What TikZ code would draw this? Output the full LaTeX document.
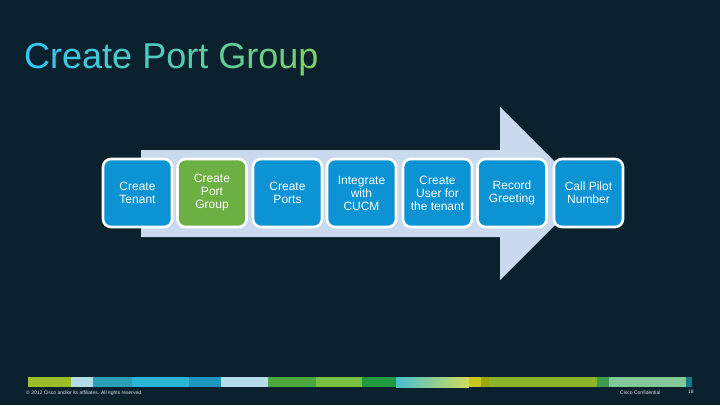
\documentclass[tikz,border=0pt]{standalone}
\usepackage{fontspec}
\setmainfont{Liberation Sans}
\usepackage{xcolor}
\usetikzlibrary{calc}
\definecolor{slidebg}{HTML}{0B222E}
\definecolor{arrowfill}{HTML}{C9D9EE}
\definecolor{boxblue}{HTML}{0B93D3}
\definecolor{boxgreen}{HTML}{6CB043}
\definecolor{titleA}{HTML}{33C8F2}
\definecolor{titleB}{HTML}{7CCF6A}
\definecolor{barA}{HTML}{9BBE28}
\definecolor{barB}{HTML}{B4DCE8}
\definecolor{barC}{HTML}{2A9FB5}
\definecolor{barD}{HTML}{29B6D6}
\definecolor{barE}{HTML}{1E96C0}
\definecolor{barF}{HTML}{4BA83C}
\definecolor{barG}{HTML}{78C040}
\definecolor{barH}{HTML}{1F9A3C}
\definecolor{barI}{HTML}{46BED0}
\definecolor{barJ}{HTML}{D2DC5A}
\definecolor{barK}{HTML}{C8C81E}
\definecolor{barL}{HTML}{A0A800}
\definecolor{barM}{HTML}{8CB428}
\definecolor{barN}{HTML}{3C9C50}
\definecolor{barO}{HTML}{82C896}
\definecolor{barP}{HTML}{0F7A8A}
\newcommand{\tl}[2]{\textcolor{titleB!#1!titleA}{#2}}

\begin{document}
\begin{tikzpicture}[x=1pt,y=-1pt,line join=round,line cap=round]
        \tikzset{stepbox/.style={draw=white,line width=2.6pt,rounded corners=8pt,
                minimum width=69pt,minimum height=68pt,inner sep=2pt,
                text=white,align=center,font=\fontsize{12}{13}\selectfont},
                footnote/.style={text=white!85!slidebg,inner sep=0pt,anchor=west,
                font=\fontsize{5}{6}\selectfont}}
        \fill[slidebg] (0,0) rectangle (720,405);
        % title
        \node[anchor=base west,inner sep=0pt,font=\fontsize{36}{40}\selectfont] (title) at (24,68)
            {\tl{0}{C}\tl{6}{r}\tl{12}{e}\tl{18}{a}\tl{24}{t}\tl{30}{e} \tl{38}{P}\tl{45}{o}\tl{52}{r}\tl{58}{t} \tl{66}{G}\tl{74}{r}\tl{82}{o}\tl{90}{u}\tl{100}{p}};
        % arrow behind the steps
        \fill[arrowfill] (141,150) -- (500,150) -- (500,107) -- (586.5,193.5)
            -- (500,280) -- (500,237) -- (141,237) -- cycle;
        % steps
        \foreach \i/\x/\col/\txt in {1/137.5/boxblue/{Create\\Tenant},
                2/212/boxgreen/{Create\\Port\\Group},
                3/287.5/boxblue/{Create\\Ports},
                4/361.5/boxblue/{Integrate\\with\\CUCM},
                5/437.5/boxblue/{Create\\User for\\the tenant},
                6/512/boxblue/{Record\\Greeting},
                7/588.5/boxblue/{Call Pilot\\Number}}
            \node[stepbox,fill=\col] (step\i) at (\x,193) {\txt};
        % colour bar at the bottom
        \foreach \a/\b/\col in {28/71/barA, 71/93/barB, 93/132/barC, 132/189/barD,
                189/221/barE, 221/268/barB, 268/316/barF, 316/362/barG, 362/396/barH,
                469/481/barK, 481/489/barL, 489/597/barM, 597/609/barN, 609/686/barO, 686/692/barP}
            \fill[\col] (\a,377) rectangle (\b,387);
        \shade[left color=barI,right color=barJ] (396,377) rectangle (469,387);
        % footer
        \node[footnote] (copyright) at (26,393) {\textcopyright{} 2012 Cisco and/or its affiliates. All rights reserved.};
        \node[footnote] (confidential) at (620,393) {Cisco Confidential};
        \node[footnote] (pagenum) at (688,392) {18};
\end{tikzpicture}
\end{document}
